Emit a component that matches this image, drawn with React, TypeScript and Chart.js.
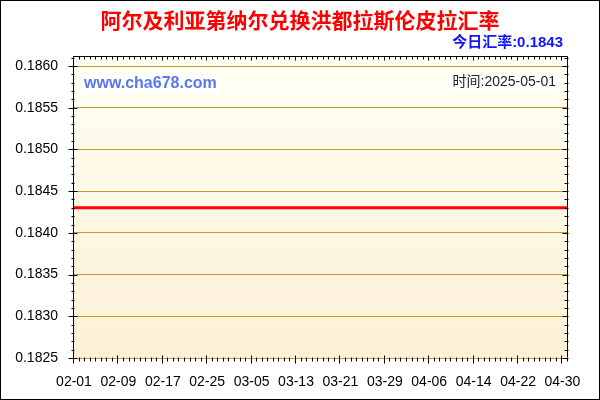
import { Chart, registerables } from 'chart.js';
import { useEffect, useRef } from 'react';

Chart.register(...registerables);

// daily dates shown on the x axis (2025-02-01 .. 2025-05-01)
const dates = [
    '02-01', '02-02', '02-03', '02-04', '02-05', '02-06', '02-07', '02-08', '02-09', '02-10',
    '02-11', '02-12', '02-13', '02-14', '02-15', '02-16', '02-17', '02-18', '02-19', '02-20',
    '02-21', '02-22', '02-23', '02-24', '02-25', '02-26', '02-27', '02-28',
    '03-01', '03-02', '03-03', '03-04', '03-05', '03-06', '03-07', '03-08', '03-09', '03-10',
    '03-11', '03-12', '03-13', '03-14', '03-15', '03-16', '03-17', '03-18', '03-19', '03-20',
    '03-21', '03-22', '03-23', '03-24', '03-25', '03-26', '03-27', '03-28', '03-29', '03-30', '03-31',
    '04-01', '04-02', '04-03', '04-04', '04-05', '04-06', '04-07', '04-08', '04-09', '04-10',
    '04-11', '04-12', '04-13', '04-14', '04-15', '04-16', '04-17', '04-18', '04-19', '04-20',
    '04-21', '04-22', '04-23', '04-24', '04-25', '04-26', '04-27', '04-28', '04-29', '04-30',
    '05-01',
];

// DZD -> HNL rate, one value per date
const rates = [
    0.1843, 0.1843, 0.1843, 0.1843, 0.1843, 0.1843, 0.1843, 0.1843, 0.1843, 0.1843,
    0.1843, 0.1843, 0.1843, 0.1843, 0.1843, 0.1843, 0.1843, 0.1843, 0.1843, 0.1843,
    0.1843, 0.1843, 0.1843, 0.1843, 0.1843, 0.1843, 0.1843, 0.1843,
    0.1843, 0.1843, 0.1843, 0.1843, 0.1843, 0.1843, 0.1843, 0.1843, 0.1843, 0.1843,
    0.1843, 0.1843, 0.1843, 0.1843, 0.1843, 0.1843, 0.1843, 0.1843, 0.1843, 0.1843,
    0.1843, 0.1843, 0.1843, 0.1843, 0.1843, 0.1843, 0.1843, 0.1843, 0.1843, 0.1843, 0.1843,
    0.1843, 0.1843, 0.1843, 0.1843, 0.1843, 0.1843, 0.1843, 0.1843, 0.1843, 0.1843,
    0.1843, 0.1843, 0.1843, 0.1843, 0.1843, 0.1843, 0.1843, 0.1843, 0.1843, 0.1843,
    0.1843, 0.1843, 0.1843, 0.1843, 0.1843, 0.1843, 0.1843, 0.1843, 0.1843, 0.1843,
    0.1843,
];

const xTickLabels = ['02-01', '02-09', '02-17', '02-25', '03-05', '03-13', '03-21', '03-29', '04-06', '04-14', '04-22', '04-30'];

const yMin = 0.1825;
const yMax = 0.18612;
const yStep = 0.0005;
const yMinorStep = 0.0001;

const titleText = '阿尔及利亚第纳尔兑换洪都拉斯伦皮拉汇率';
const todayText = '今日汇率:0.1843';
const siteText = 'www.cha678.com';
const timeText = '时间:2025-05-01';

const FONT = '"Liberation Sans", Arial, "Noto Sans CJK SC", sans-serif';

const framePlugin = {
    id: 'frame',
    beforeDraw(chart: Chart) {
        const { ctx, chartArea: a } = chart;
        ctx.save();
        ctx.fillStyle = '#ffffff';
        ctx.fillRect(0, 0, chart.width, chart.height);
        const g = ctx.createLinearGradient(0, a.top, 0, a.bottom);
        g.addColorStop(0, '#fffff5');
        g.addColorStop(1, '#fdf0d6');
        ctx.fillStyle = g;
        ctx.fillRect(a.left, a.top, a.right - a.left, a.bottom - a.top);
        ctx.restore();
    },
    afterDraw(chart: Chart) {
        const { ctx, chartArea: a } = chart;
        const xs = chart.scales.x;
        const ys = chart.scales.y;
        ctx.save();
        ctx.strokeStyle = '#000000';
        ctx.lineWidth = 1;
        ctx.beginPath();
        const L = Math.round(a.left) - 0.5;
        const R = Math.round(a.right) - 0.5;
        const T = Math.round(a.top) + 0.5;
        const B = Math.round(a.bottom) - 0.5;
        // frame (left, top, right)
        ctx.moveTo(L, B); ctx.lineTo(L, T); ctx.lineTo(R, T); ctx.lineTo(R, B);
        // y ticks, every 0.0001
        const nY = Math.round((yMax - yMin) / yMinorStep);
        for (let k = 0; k <= nY; k++) {
            const v = yMin + k * yMinorStep;
            const py = Math.round(ys.getPixelForValue(v)) + 0.5;
            const major = k % Math.round(yStep / yMinorStep) === 0;
            if (major) {
                ctx.moveTo(L - 5, py); ctx.lineTo(L + 4, py);
                ctx.moveTo(R - 5, py); ctx.lineTo(R + 1, py);
            } else {
                ctx.moveTo(L - 2, py); ctx.lineTo(L + 1, py);
                ctx.moveTo(R - 3, py); ctx.lineTo(R + 1, py);
            }
        }
        // x ticks, every day
        dates.forEach((d, i) => {
            const px = Math.round(xs.getPixelForValue(i)) - 0.5;
            const major = xTickLabels.includes(d);
            if (major) {
                ctx.moveTo(px, B - 2); ctx.lineTo(px, B + 6);
                ctx.moveTo(px, T); ctx.lineTo(px, T + 4);
            } else {
                ctx.moveTo(px, B); ctx.lineTo(px, B + 4);
                ctx.moveTo(px, T); ctx.lineTo(px, T + 3);
            }
        });
        ctx.stroke();
        // outer border
        ctx.strokeRect(0.5, 0.5, chart.width - 1, chart.height - 1);

        ctx.textBaseline = 'middle';
        // title
        ctx.font = `bold 21px ${FONT}`;
        ctx.fillStyle = '#ff0000';
        ctx.textAlign = 'center';
        ctx.fillText(titleText, 300, 22);

        // today's rate
        ctx.font = `bold 15px ${FONT}`;
        ctx.fillStyle = '#1414ff';
        ctx.textAlign = 'right';
        ctx.fillText(todayText, 563, 43);

        // site watermark
        ctx.font = `bold 16px ${FONT}`;
        const sw = ctx.measureText(siteText).width;
        ctx.fillStyle = '#ffffff';
        ctx.fillRect(82, 74, sw + 4, 20);
        ctx.fillStyle = '#5878ee';
        ctx.textAlign = 'left';
        ctx.fillText(siteText, 84, 84);

        // time stamp
        ctx.font = `14px ${FONT}`;
        const tw = ctx.measureText(timeText).width;
        ctx.fillStyle = '#ffffff';
        ctx.fillRect(556 - tw - 2, 73, tw + 3, 18);
        ctx.fillStyle = '#222222';
        ctx.textAlign = 'right';
        ctx.fillText(timeText, 556, 82);
        ctx.restore();
    },
};

const App = () => {
    const chartRef = useRef<HTMLCanvasElement | null>(null);
    const chartInstance = useRef<Chart<'line'> | null>(null);

    useEffect(() => {
        if (!chartRef.current) return;
        const ctx = chartRef.current.getContext('2d');
        if (!ctx) return;
        if (chartInstance.current) chartInstance.current.destroy();

        chartInstance.current = new Chart(ctx, {
            type: 'line',
            data: {
                labels: dates,
                datasets: [
                    {
                        label: 'rate',
                        data: rates,
                        borderColor: '#ff0000',
                        borderWidth: 3,
                        pointRadius: 0,
                        tension: 0,
                    },
                ],
            },
            options: {
                responsive: false,
                maintainAspectRatio: false,
                animation: false,
                // title texts are drawn by framePlugin in the top 56px
                layout: { padding: { top: 56, left: 0, right: 32, bottom: 0 } },
                plugins: {
                    legend: { display: false },
                    tooltip: { enabled: false },
                    title: { display: false },
                },
                scales: {
                    x: {
                        type: 'category',
                        offset: false,
                        grid: { display: false, drawTicks: false },
                        border: { display: false },
                        afterFit: (scale) => { scale.height = 42; },
                        ticks: {
                            autoSkip: false,
                            maxRotation: 0,
                            minRotation: 0,
                            padding: 16,
                            color: '#000000',
                            font: { family: FONT, size: 14 },
                            callback: (_v, i) => (xTickLabels.includes(dates[i]) ? dates[i] : ''),
                        },
                    },
                    y: {
                        min: yMin,
                        max: yMax,
                        grid: { color: '#c39a2c', lineWidth: 1, drawTicks: false },
                        border: { display: false },
                        afterFit: (scale) => { scale.width = 74; },
                        ticks: {
                            stepSize: yStep,
                            includeBounds: false,
                            padding: 16,
                            color: '#000000',
                            font: { family: FONT, size: 14 },
                            callback: (v) => Number(v).toFixed(4),
                        },
                    },
                },
            },
            plugins: [framePlugin],
        });

        return () => {
            if (chartInstance.current) {
                chartInstance.current.destroy();
                chartInstance.current = null;
            }
        };
    }, []);

    return (
        <div style={{ position: 'absolute', left: 0, top: 0, width: 600, height: 400 }}>
            <canvas ref={chartRef} width={600} height={400} />
        </div>
    );
};

export default App;
